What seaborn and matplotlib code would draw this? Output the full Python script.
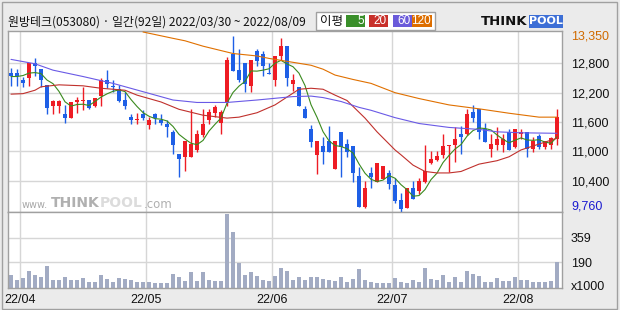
import numpy as np
import pandas as pd
import matplotlib
matplotlib.use('Agg')
import matplotlib.pyplot as plt
import seaborn as sns
from matplotlib.patches import Rectangle
from matplotlib.transforms import blended_transform_factory

sns.set_theme(style='white')
plt.rcParams['font.family'] = ['Noto Sans CJK KR', 'DejaVu Sans']

# ---------------- data ----------------
title = "원방테크(053080) · 일간(92일) 2022/03/30 ~ 2022/08/09"
holidays = ['2022-05-05', '2022-06-01', '2022-06-06']
dates = pd.bdate_range('2022-03-30', '2022-08-09')
dates = dates[~dates.isin(pd.to_datetime(holidays))]

open_ = [12600, 12600, 12460, 12490, 12810, 12680, 12360, 11930, 11930, 11760,
         11690, 12000, 12030, 12050, 11930, 12140, 12460, 12340, 12270, 12050,
         11700, 11650, 11760, 11540, 11760, 11650, 11560, 11390, 10940, 10890,
         10890, 11030, 11340, 11640, 11790, 11590, 11990, 13000, 12660, 12810,
         12340, 13050, 13000, 12610, 12450, 12940, 13160, 12380, 12310, 11870,
         11460, 10930, 11110, 11210, 10650, 11390, 11150, 11110, 10500, 9870,
         10550, 10380, 10440, 10550, 10310, 10010, 9850, 10250, 10190, 10380,
         10760, 10820, 10930, 11110, 11130, 11350, 11350, 11810, 11870, 11460,
         11040, 11140, 11140, 11400, 11100, 11350, 11390, 11040, 11310, 11100,
         11140, 11250]
high = [12700, 12680, 12530, 12810, 12910, 12680, 12360, 12050, 12050, 11950,
        12010, 12120, 12320, 12050, 12100, 12490, 12660, 12460, 12360, 12220,
        11760, 11790, 11850, 11700, 11790, 11760, 11650, 11440, 10940, 11210,
        11870, 11440, 11870, 11870, 11950, 11850, 12920, 13350, 13100, 12810,
        12870, 13100, 13050, 12800, 12950, 13310, 13160, 12590, 12310, 11930,
        11540, 11210, 11300, 11510, 11210, 11390, 11250, 11110, 10690, 10400,
        10690, 10760, 10700, 10620, 10450, 10140, 10250, 10400, 10450, 11140,
        11010, 11010, 11360, 11140, 11490, 11510, 11870, 11950, 11870, 11590,
        11350, 11490, 11350, 11460, 11460, 11460, 11390, 11300, 11350, 11210,
        11300, 11870]
low = [12340, 12340, 12310, 12340, 12550, 12310, 11760, 11760, 11790, 11590,
       11690, 11790, 11850, 11860, 11900, 11930, 12290, 12220, 12000, 11870,
       11550, 11550, 11640, 11450, 11570, 11540, 11300, 10940, 10480, 10590,
       10890, 10990, 11300, 11550, 11710, 11350, 11930, 12650, 12420, 12210,
       12210, 12750, 12550, 12590, 12340, 12870, 12340, 12230, 11930, 11690,
       11100, 10540, 10740, 10990, 10650, 10480, 10890, 10380, 9870, 9850,
       10250, 10380, 10440, 10230, 9950, 9760, 9850, 10030, 10120, 10350,
       10740, 10800, 10870, 10570, 10790, 10940, 11340, 11610, 11250, 11200,
       10890, 11030, 10990, 11030, 11060, 11250, 10890, 10990, 11040, 11040,
       11040, 11140]
close = [12550, 12550, 12390, 12810, 12750, 12450, 11890, 12020, 12020, 11690,
         12010, 12050, 12050, 11890, 12100, 12460, 12380, 12310, 12030, 11930,
         11650, 11670, 11690, 11650, 11690, 11590, 11490, 11130, 10840, 11210,
         11160, 11350, 11560, 11800, 11900, 11800, 12870, 12650, 12450, 12380,
         12870, 12850, 12750, 12590, 12950, 13160, 12490, 12460, 11930, 11690,
         11200, 11210, 10990, 10990, 11210, 11100, 10990, 10550, 9870, 10260,
         10480, 10760, 10700, 10330, 9990, 9820, 10250, 10030, 10400, 10600,
         10840, 10910, 11110, 11130, 11250, 11300, 11760, 11690, 11390, 11200,
         11150, 11250, 11250, 11030, 11460, 11390, 11040, 11210, 11100, 11210,
         11270, 11700]
volume = [101, 67, 80, 129, 101, 87, 163, 67, 71, 87,
          67, 71, 80, 51, 57, 101, 74, 55, 85, 76,
          67, 53, 55, 55, 48, 48, 48, 108, 90, 62,
          122, 62, 122, 67, 62, 62, 521, 397, 186, 101,
          122, 94, 67, 62, 94, 149, 129, 67, 87, 67,
          87, 87, 78, 67, 62, 87, 53, 74, 142, 67,
          57, 46, 44, 48, 80, 53, 48, 67, 53, 149,
          74, 67, 101, 53, 87, 57, 131, 112, 94, 53,
          57, 80, 60, 60, 87, 67, 67, 53, 53, 57,
          60, 190]

# 5-day MA values for the first days (window reaches before the chart)
ma5_head = [12530, 12530, 12550, 12600]
ma20_day = [0, 2, 4, 5, 8, 12, 15, 19, 21, 25, 28, 32, 36, 38, 41, 44, 47, 48, 50,
            52, 54, 56, 59, 61, 64, 65, 67, 69, 71, 73, 75, 77, 78, 81, 83, 85, 88, 91]
ma20 = [12170, 12180, 12250, 12320, 12360, 12340, 12290, 12250, 12150, 12010, 11860,
        11740, 11680, 11700, 11790, 11950, 12190, 12270, 12290, 12270, 12150, 12040,
        11680, 11400, 11030, 10930, 10720, 10590, 10560, 10560, 10590, 10690, 10740,
        10810, 10890, 11030, 11150, 11270]
ma60_day = [0, 4, 7, 12, 17, 22, 27, 31, 36, 41, 47, 50, 52, 55, 58, 60, 64, 68, 73,
            78, 81, 85, 91]
ma60 = [12880, 12790, 12660, 12530, 12390, 12220, 12050, 12000, 12000, 12050, 12120,
        12130, 12100, 12020, 11900, 11840, 11690, 11570, 11490, 11450, 11400, 11380,
        11370]
ma120_day = [22, 27, 29, 32, 34, 37, 41, 43, 48, 50, 52, 54, 57, 60, 64, 68, 73, 78,
             83, 88, 91]
ma120 = [13440, 13310, 13260, 13150, 13090, 13000, 12950, 12900, 12800, 12760, 12680,
         12560, 12470, 12390, 12200, 12080, 11950, 11870, 11780, 11700, 11700]

price_grid = [10400, 11000, 11600, 12200, 12800]
price_max_label = 13350
price_min_label = 9760
vol_grid = [190, 359]
legend_items = [('5', '#3a8f2a'), ('20', '#c8302a'), ('60', '#6a5ada'), ('120', '#dd6e00')]

# ---------------- style ----------------
W, H = 620, 310
RED, BLUE = '#ee1c24', '#1e5fe6'
MA_COLORS = ['#3a8a1e', '#c0302c', '#6a5ae6', '#e07000']
GRID = '#d6d6d6'
SPINE = '#a0a0a0'
VOLC = '#a2abc3'
NUMFONT = ['Liberation Sans', 'DejaVu Sans']


def fx(x):
    return x / W


def fy(y):
    return 1 - y / H


fig = plt.figure(figsize=(6.2, 3.1), dpi=100, facecolor='#ebebeb')
ax = fig.add_axes([fx(8), fy(212), fx(562) - fx(8), fy(31) - fy(212)])
axv = fig.add_axes([fx(8), fy(287.5), fx(562) - fx(8), fy(212) - fy(287.5)])
for a in (ax, axv):
    a.set_facecolor('white')
    for s in a.spines.values():
        s.set_color(SPINE)
        s.set_linewidth(1)

n = len(close)
x = np.arange(n)
o = np.array(open_, float)
c = np.array(close, float)
hi = np.array(high, float)
lo = np.array(low, float)
cols = np.where(c >= o, RED, BLUE)

# grid
for g in price_grid:
    ax.axhline(g, color=GRID, lw=1, zorder=0)
for g in vol_grid:
    axv.axhline(g, color=GRID, lw=1, zorder=0)
month_start = [i for i in range(1, n) if dates[i].month != dates[i - 1].month]
month_labels = [dates[i].strftime('%y/%m') for i in month_start]
for i in month_start:
    ax.axvline(i - 0.5, color=GRID, lw=1, zorder=0)
    axv.axvline(i - 0.5, color=GRID, lw=1, zorder=0)

# candles
ax.vlines(x, lo, hi, colors=cols, lw=1, zorder=3)
body_b = np.minimum(o, c)
body_h = np.maximum(np.abs(c - o), 18)
ax.bar(x, body_h, bottom=body_b, width=0.68, color=cols, lw=0, zorder=4)

# moving averages
ma5 = list(ma5_head) + list(pd.Series(close).rolling(5).mean().iloc[4:])
sns.lineplot(x=x, y=ma5, ax=ax, color=MA_COLORS[0], lw=0.8, zorder=5)
sns.lineplot(x=ma20_day, y=ma20, ax=ax, color=MA_COLORS[1], lw=0.8, zorder=5)
sns.lineplot(x=ma60_day, y=ma60, ax=ax, color=MA_COLORS[2], lw=0.8, zorder=5)
sns.lineplot(x=ma120_day, y=ma120, ax=ax, color=MA_COLORS[3], lw=0.8, zorder=5)

# volume
vdf = pd.DataFrame({'day': x, 'vol': volume})
sns.barplot(data=vdf, x='day', y='vol', ax=axv, color=VOLC, saturation=1,
            width=0.7, native_scale=True, errorbar=None, linewidth=0, zorder=2)

xlim = (-0.5, 91.83)
ax.set_xlim(*xlim)
axv.set_xlim(*xlim)
ax.set_ylim(9762, 13460)
axv.set_ylim(16.5, 535)

# axes labels
ax.set_xticks([])
ax.set_xlabel('')
ax.set_ylabel('')
ax.yaxis.tick_right()
ax.set_yticks(price_grid)
ax.set_yticklabels([f'{v:,}' for v in price_grid], family=NUMFONT, fontsize=9, color='#111111')
ax.tick_params(axis='y', length=0, pad=6.5)
tr = blended_transform_factory(ax.transAxes, ax.transData)
ax.text(1 + 9 / 554, price_max_label, f'{price_max_label:,}', transform=tr, ha='left', va='center',
        family=NUMFONT, fontsize=9, color='#d06a00')
ax.text(1 + 9 / 554, price_min_label, f'{price_min_label:,}', transform=tr, ha='left', va='bottom',
        family=NUMFONT, fontsize=9, color='#1a1ad0')

axv.yaxis.tick_right()
axv.set_yticks(vol_grid)
axv.set_yticklabels([str(v) for v in vol_grid], family=NUMFONT, fontsize=9, color='#111111')
axv.tick_params(axis='y', length=0, pad=6.5)
axv.text(1 + 9 / 554, 0, 'x1000', transform=axv.transAxes, ha='left', va='center',
         family=NUMFONT, fontsize=9, color='#111111')
axv.set_xticks([i - 0.5 for i in month_start])
axv.set_xticklabels(month_labels, family=NUMFONT, fontsize=9, color='#111111')
axv.tick_params(axis='x', length=0, pad=5)
axv.set_xlabel('')
axv.set_ylabel('')

# title
fig.text(fx(8), fy(22.5), title, fontsize=8.6, va='center', ha='left', color='#111111',
         family=['Noto Sans CJK KR', 'DejaVu Sans'])

# legend box
fig.patches.append(Rectangle((fx(316), fy(29.5)), fx(435) - fx(316), fy(12) - fy(29.5),
                             transform=fig.transFigure, facecolor='white', edgecolor=SPINE, lw=1))
fig.text(fx(320), fy(21), '이평', fontsize=9, va='center', ha='left', color='#111111',
         family=['Noto Sans CJK KR', 'DejaVu Sans'])
boxes = [(346, 365.5), (368.5, 388), (392.5, 411.7), (411.7, 431.7)]
for (lab, col), (x0, x1) in zip(legend_items, boxes):
    fig.patches.append(Rectangle((fx(x0), fy(27)), fx(x1) - fx(x0), fy(15.5) - fy(27),
                                 transform=fig.transFigure, facecolor=col, edgecolor='none'))
    fig.text(fx(x1 - 1), fy(21.3), lab, fontsize=8.5, va='center', ha='right', color='white',
             family=NUMFONT)

# logo
fig.text(fx(527), fy(21.5), 'THINK', fontsize=9.5, fontweight='bold', va='center', ha='right',
         color='#111111', family=['DejaVu Sans'])
fig.patches.append(Rectangle((fx(529), fy(27.5)), fx(563) - fx(529), fy(15) - fy(27.5),
                             transform=fig.transFigure, facecolor='#3d6fd6', edgecolor='none'))
fig.text(fx(546), fy(21.5), 'POOL', fontsize=8, fontweight='bold', va='center', ha='center',
         color='white', family=['DejaVu Sans'])

# watermark
fig.text(fx(22), fy(205), 'www.', fontsize=7, va='center', ha='left', color='#a8a8a8',
         family=['DejaVu Sans'])
fig.text(fx(51), fy(203), 'THINK', fontsize=10, va='center', ha='left', color='#b0b0b0',
         family=['DejaVu Sans'], fontweight='bold')
fig.text(fx(100), fy(203), 'POOL', fontsize=10, va='center', ha='left', color='#dcdcdc',
         family=['DejaVu Sans'], fontweight='bold')
fig.text(fx(144), fy(204.5), '.com', fontsize=8.5, va='center', ha='left', color='#b0b0b0',
         family=['DejaVu Sans'])

# outer frame
fig.patches.append(Rectangle((fx(1.5), fy(308.5)), fx(617) - fx(1.5), fy(1.5) - fy(308.5),
                             transform=fig.transFigure, facecolor='none', edgecolor=SPINE, lw=1))

fig.savefig('out.png', dpi=100, facecolor=fig.get_facecolor())
